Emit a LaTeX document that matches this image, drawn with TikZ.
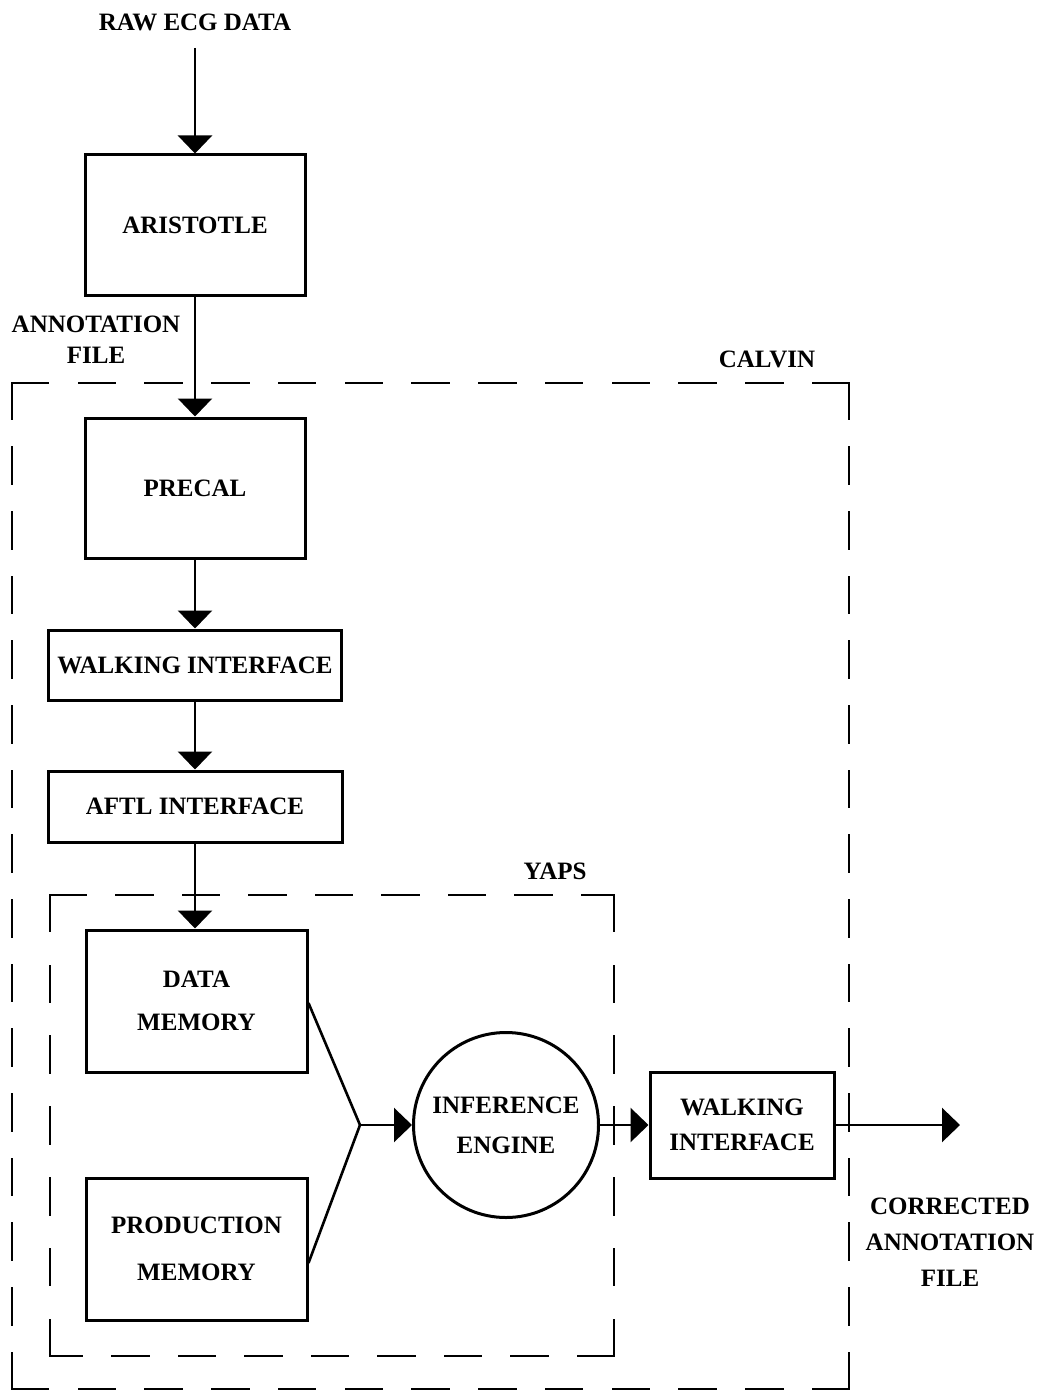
\documentclass[tikz,border=0pt]{standalone}
\usepackage{fontspec}
\setmainfont{Liberation Serif}
\usetikzlibrary{arrows.meta}
\begin{document}
\begin{tikzpicture}[x=1pt,y=-1pt,
  lbl/.style={font=\fontsize{25}{31}\selectfont\bfseries, align=center, inner sep=0pt},
  blk/.style={draw, line width=3pt, inner sep=0pt, align=center, font=\fontsize{25}{43}\selectfont\bfseries},
  circblk/.style={draw, circle, line width=3pt, inner sep=0pt, align=center, font=\fontsize{25}{40}\selectfont\bfseries},
  conn/.style={line width=2.6pt},
  arr/.style={line width=2.6pt, -{Triangle[length=18pt,width=34pt]}},
  grp/.style={line width=2.5pt, line cap=rect, dash pattern=on 36pt off #1}
]
\useasboundingbox (0,0) rectangle (1048,1391);

% group boxes (gaps chosen so each side starts and ends with a dash)
\coordinate (c1) at (12,383);  \coordinate (c2) at (849,383);
\coordinate (c3) at (849,1389); \coordinate (c4) at (12,1389);
\draw[grp=30.75pt] (c1) -- (c2);
\draw[grp=28.67pt] (c2) -- (c3);
\draw[grp=30.75pt] (c3) -- (c4);
\draw[grp=28.67pt] (c4) -- (c1);
\coordinate (y1) at (50,895);  \coordinate (y2) at (614,895);
\coordinate (y3) at (614,1356); \coordinate (y4) at (50,1356);
\draw[grp=30.5pt] (y1) -- (y2);
\draw[grp=34.83pt] (y2) -- (y3);
\draw[grp=30.5pt] (y3) -- (y4);
\draw[grp=34.83pt] (y4) -- (y1);
\node[lbl] (calvin) at (767,359) {CALVIN};
\node[lbl] (yaps) at (555,871) {YAPS};

% texts
\node[lbl] (raw) at (195,22) {RAW ECG DATA};
\coordinate (rawend) at (195,48);
\node[lbl] (annf) at (96,340) {ANNOTATION\\FILE};
\node[lbl, font=\fontsize{25}{36}\selectfont\bfseries] (corr) at (950,1242) {CORRECTED\\ANNOTATION\\FILE};

% blocks
\node[blk, minimum width=220pt, minimum height=140pt] (arist) at (195,225) {ARISTOTLE};
\node[blk, minimum width=220pt, minimum height=140pt] (precal) at (195,488) {PRECAL};
\node[blk, minimum width=293pt, minimum height=70pt] (walk1) at (195,665) {WALKING INTERFACE};
\node[blk, minimum width=294pt, minimum height=71pt] (aftl) at (195,806.5) {AFTL INTERFACE};
\node[blk, minimum width=221pt, minimum height=142pt] (datam) at (196.5,1001) {DATA\\MEMORY};
\node[blk, minimum width=221pt, minimum height=142pt, font=\fontsize{25}{47}\selectfont\bfseries] (prodm) at (196.5,1249) {PRODUCTION\\MEMORY};
\node[circblk, minimum size=185pt] (infer) at (506,1125) {INFERENCE\\ENGINE};
\node[blk, minimum width=184pt, minimum height=106pt, font=\fontsize{25}{35}\selectfont\bfseries] (walk2) at (742,1125) {WALKING\\INTERFACE};

\coordinate (jn) at (360,1125);
\coordinate (outend) at (960,1125);

% connectors
\draw[arr] (rawend) -- (arist.north);
\draw[arr] (arist.south) -- (precal.north);
\draw[arr] (precal.south) -- (walk1.north);
\draw[arr] (walk1.south) -- (aftl.north);
\draw[arr] (aftl.south) -- (aftl.south |- datam.north);
\draw[conn] ([yshift=-2pt]datam.east) -- (jn);
\draw[conn] ([yshift=-14pt]prodm.east) -- (jn);
\draw[arr] (jn) -- (infer.west);
\draw[arr] (infer.east) -- (walk2.west);
\draw[arr] (walk2.east) -- (outend);
\end{tikzpicture}
\end{document}
